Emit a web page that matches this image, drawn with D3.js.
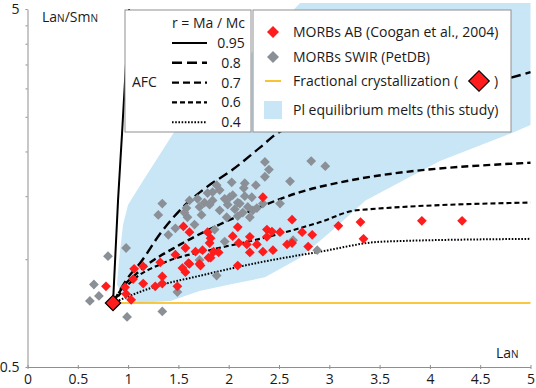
<!DOCTYPE html>
<html>
<head>
<meta charset="utf-8">
<script src="https://cdn.jsdelivr.net/npm/d3@7"></script>
<style>
  body { margin: 0; background: #fff; }
  svg { display: block; font-family: "Open Sans", sans-serif; }
</style>
</head>
<body>
<div id="chart"></div>
<script>
// values (LaN vs LaN/SmN)
const xTicks = [0, 0.5, 1, 1.5, 2, 2.5, 3, 3.5, 4, 4.5, 5];
const yTicks = [0.5, 1, 1.5, 2, 2.5, 3, 3.5, 4, 4.5, 5];
const yTickLabels = [0.5, 5];

const startMelt = [0.85, 0.755];
const fcLine = [[0.85, 0.755], [5, 0.755]];

const afcRatios = ["0.95", "0.8", "0.7", "0.6", "0.4"];
const afc095 = [[0.85, 0.755], [0.90, 1.46], [0.94, 2.25], [1.01, 5.0]];
const afc08 = [[0.85, 0.755], [1.0, 0.89], [1.12, 0.976], [1.32, 1.18], [1.57, 1.42],
  [1.78, 1.59], [2.04, 1.78], [2.31, 2.05], [2.51, 2.27], [4.80, 3.21], [5.0, 3.33]];
const afc07 = [[0.85, 0.755], [0.92, 0.815], [1.12, 0.93], [1.52, 1.10], [1.91, 1.25],
  [2.31, 1.40], [2.71, 1.54], [3.11, 1.64], [5.0, 1.86]];
const afc06 = [[0.85, 0.755], [1.02, 0.86], [1.35, 0.976], [1.81, 1.06], [2.31, 1.14],
  [2.91, 1.27], [3.27, 1.37], [5.0, 1.44]];
const afc04 = [[0.85, 0.755], [1.22, 0.83], [1.72, 0.90], [2.31, 0.98], [2.91, 1.05],
  [3.53, 1.12], [5.0, 1.14]];
const afcCurves = [afc095, afc08, afc07, afc06, afc04];

const plMelts = [[0.89, 0.85], [0.91, 0.995], [0.95, 1.25], [1.0, 1.42], [1.12, 1.61],
  [1.45, 2.25], [2.71, 5.2], [5.0, 5.2], [5.0, 2.37], [4.81, 2.25], [4.10, 1.88],
  [3.36, 1.46], [3.04, 1.21], [2.71, 1.01], [2.36, 0.89], [2.01, 0.85], [1.71, 0.815],
  [1.42, 0.765], [1.12, 0.755], [0.97, 0.77]];

const morbsAB = [
  [0.78, 0.84], [0.97, 0.835], [0.98, 0.80], [1.03, 0.77], [1.05, 0.88], [1.06, 0.94],
  [1.15, 0.955], [1.15, 0.855], [1.27, 0.84], [1.32, 0.98], [1.34, 0.895], [1.34, 0.855],
  [1.47, 1.03], [1.49, 0.84], [1.54, 0.945], [1.57, 1.075], [1.55, 1.235], [1.61, 1.19],
  [1.61, 0.97], [1.67, 1.05], [1.71, 0.97], [1.74, 1.06], [1.79, 1.19], [1.81, 1.11],
  [1.80, 1.01], [1.85, 1.05], [1.90, 1.045], [2.04, 1.16], [2.09, 1.23], [2.10, 1.11],
  [2.09, 0.96], [2.18, 1.10], [2.21, 1.155], [2.28, 1.10], [2.34, 1.05], [2.38, 1.21],
  [2.34, 1.49], [1.57, 0.92], [1.60, 0.975], [1.72, 0.96], [1.82, 1.01], [2.38, 1.155],
  [2.43, 1.195], [2.51, 1.19], [2.58, 1.10], [2.63, 1.11], [2.63, 1.29], [2.73, 1.19],
  [2.79, 1.085], [2.83, 1.17], [3.09, 1.24], [3.31, 1.27], [3.34, 1.14], [3.92, 1.28],
  [4.32, 1.28], [2.44, 1.06], [2.21, 1.045], [1.82, 1.145]
];

const morbsSWIR = [
  [2.36, 1.87], [2.40, 1.78], [2.36, 1.70], [2.82, 1.88], [2.96, 1.82], [2.61, 1.65],
  [2.27, 1.61], [2.16, 1.63], [2.03, 1.64], [2.15, 1.58], [1.88, 1.61], [1.91, 1.56],
  [1.84, 1.54], [1.34, 1.43], [1.30, 1.33], [0.98, 1.075], [0.80, 1.02], [0.66, 0.85],
  [0.71, 0.79], [0.62, 0.765], [0.99, 0.69], [1.34, 0.715], [1.49, 0.81], [1.40, 1.17],
  [1.47, 1.22], [1.58, 1.39], [1.61, 1.46], [1.69, 1.475], [1.71, 1.40], [1.76, 1.44],
  [1.79, 1.53], [1.81, 1.42], [1.73, 1.33], [1.59, 1.31], [1.56, 1.35], [1.91, 1.37],
  [1.98, 1.31], [2.06, 1.38], [2.09, 1.44], [2.04, 1.51], [1.96, 1.475], [2.14, 1.35],
  [2.19, 1.40], [2.23, 1.49], [2.24, 1.37], [2.28, 1.39], [2.51, 1.43], [2.34, 1.43],
  [2.09, 1.32], [1.88, 0.90], [1.71, 0.995], [2.64, 1.13], [2.88, 1.06], [1.96, 1.12],
  [1.86, 1.21], [2.01, 1.49], [2.11, 1.43], [2.21, 1.31], [2.16, 1.50], [1.99, 1.42],
  [1.84, 1.46], [1.66, 1.25]
];

const legendItems = ["MORBs AB (Coogan et al., 2004)", "MORBs SWIR (PetDB)",
  "Fractional crystallization (", "Pl equilibrium melts (this study)"];

const WIDTH = 536;
const HEIGHT = 388;
const RED = "#fe1c1c";
const GREY = "#8b9097";
const BLUE = "#c9e6f7";
const ORANGE = "#f7b500";
const AXIS = "#8f8f8f";
const TEXT = "#1a1a1a";
const DASH = { "0.95": null, "0.8": "10,5", "0.7": "7,4", "0.6": "5,3", "0.4": "1.6,1.6" };
const STROKE_W = { "0.95": 2, "0.8": 2.4, "0.7": 2.4, "0.6": 2.1, "0.4": 2 };

const x = d3.scaleLinear().domain([0, 5]).range([27.5, 530.5]);
const y = d3.scaleLog().domain([0.5, 5]).range([367, 9]);

const svg = d3.select("#chart").append("svg")
  .attr("width", WIDTH)
  .attr("height", HEIGHT)
  .attr("viewBox", `0 0 ${WIDTH} ${HEIGHT}`);

const line = d3.line().x((d) => x(d[0])).y((d) => y(d[1]));
const smooth = d3.line().x((d) => x(d[0])).y((d) => y(d[1])).curve(d3.curveMonotoneX);

// Pl equilibrium melts field
svg.append("path")
  .attr("d", line(plMelts) + "Z")
  .attr("fill", BLUE);

// fractional crystallization
svg.append("path")
  .attr("d", line(fcLine))
  .attr("fill", "none")
  .attr("stroke", ORANGE)
  .attr("stroke-width", 1.6);

// AFC curves
svg.append("g")
  .selectAll("path")
  .data(afcCurves)
  .join("path")
  .attr("d", (d) => smooth(d))
  .attr("fill", "none")
  .attr("stroke", "#000")
  .attr("stroke-width", (d, i) => STROKE_W[afcRatios[i]])
  .attr("stroke-dasharray", (d, i) => DASH[afcRatios[i]]);

const diamond = (size) => d3.symbol(d3.symbolSquare, size)();

svg.append("g")
  .selectAll("path")
  .data(morbsSWIR)
  .join("path")
  .attr("d", diamond(48))
  .attr("transform", (d) => `translate(${x(d[0])},${y(d[1])}) rotate(45)`)
  .attr("fill", GREY);

svg.append("g")
  .selectAll("path")
  .data(morbsAB)
  .join("path")
  .attr("d", diamond(48))
  .attr("transform", (d) => `translate(${x(d[0])},${y(d[1])}) rotate(45)`)
  .attr("fill", RED);

svg.append("path")
  .attr("d", diamond(118))
  .attr("transform", `translate(${x(startMelt[0])},${y(startMelt[1])}) rotate(45)`)
  .attr("fill", RED)
  .attr("stroke", "#000")
  .attr("stroke-width", 1.2);

// —— Axes ——
const xAxis = svg.append("g")
  .attr("transform", `translate(0,${y(0.5)})`)
  .call(d3.axisBottom(x).tickValues(xTicks).tickSize(2).tickSizeOuter(0).tickPadding(5)
    .tickFormat(d3.format("")));
xAxis.select(".domain").attr("stroke", AXIS);
xAxis.selectAll(".tick line").attr("stroke", AXIS).attr("y1", -2).attr("y2", 2);
xAxis.selectAll("text").attr("fill", TEXT).attr("font-size", 14).attr("font-family", "Open Sans, sans-serif");

const yAxis = svg.append("g")
  .attr("transform", `translate(${x(0)},0)`)
  .call(d3.axisLeft(y).tickValues(yTicks).tickSize(2).tickSizeOuter(0).tickPadding(6)
    .tickFormat((d) => (yTickLabels.includes(d) ? d3.format("")(d) : "")));
yAxis.select(".domain").attr("stroke", AXIS);
yAxis.selectAll(".tick line").attr("stroke", AXIS);
yAxis.selectAll("text").attr("fill", TEXT).attr("font-size", 14).attr("font-family", "Open Sans, sans-serif");

// axis titles with small-cap N
const yTitle = svg.append("text").attr("x", 42).attr("y", 22).attr("fill", TEXT).attr("font-size", 14);
yTitle.append("tspan").text("La");
yTitle.append("tspan").attr("font-size", 10).text("N");
yTitle.append("tspan").text("/Sm");
yTitle.append("tspan").attr("font-size", 10).text("N");

const xTitle = svg.append("text").attr("x", 496).attr("y", 358).attr("fill", TEXT).attr("font-size", 14);
xTitle.append("tspan").text("La");
xTitle.append("tspan").attr("font-size", 10).text("N");

// —— AFC legend ——
const leg1 = svg.append("g").attr("font-size", 14).attr("fill", TEXT);
leg1.append("rect")
  .attr("x", 125).attr("y", 10).attr("width", 126).attr("height", 122)
  .attr("fill", "#fff").attr("stroke", AXIS);
leg1.append("text").attr("x", 245).attr("y", 28).attr("text-anchor", "end").text("r = Ma / Mc");
leg1.append("text").attr("x", 132).attr("y", 87).text("AFC");
afcRatios.forEach((r, i) => {
  const ly = 43 + i * 19.8;
  leg1.append("line")
    .attr("x1", 172).attr("x2", 207).attr("y1", ly).attr("y2", ly)
    .attr("stroke", "#000")
    .attr("stroke-width", STROKE_W[r])
    .attr("stroke-dasharray", DASH[r]);
  leg1.append("text").attr("x", 231).attr("y", ly + 5).attr("text-anchor", "middle").text(r);
});

// —— symbols legend ——
const leg2 = svg.append("g").attr("font-size", 14).attr("fill", TEXT);
leg2.append("rect")
  .attr("x", 253).attr("y", 10).attr("width", 258).attr("height", 122)
  .attr("fill", "#fff").attr("stroke", AXIS);
const rowY = [32, 57, 81, 110];
leg2.append("path").attr("d", diamond(72)).attr("transform", `translate(273,${rowY[0]}) rotate(45)`).attr("fill", RED);
leg2.append("path").attr("d", diamond(72)).attr("transform", `translate(273,${rowY[1]}) rotate(45)`).attr("fill", GREY);
leg2.append("line").attr("x1", 265).attr("x2", 281).attr("y1", rowY[2]).attr("y2", rowY[2])
  .attr("stroke", ORANGE).attr("stroke-width", 1.6);
leg2.append("rect").attr("x", 264).attr("y", rowY[3] - 9).attr("width", 18).attr("height", 18).attr("fill", BLUE);
legendItems.forEach((t, i) => {
  leg2.append("text").attr("x", 293).attr("y", rowY[i] + 5).text(t);
});
leg2.append("path").attr("d", diamond(210))
  .attr("transform", `translate(479,${rowY[2]}) rotate(45)`)
  .attr("fill", RED).attr("stroke", "#000").attr("stroke-width", 1.2);
leg2.append("text").attr("x", 494).attr("y", rowY[2] + 5).text(")");
</script>
</body>
</html>
